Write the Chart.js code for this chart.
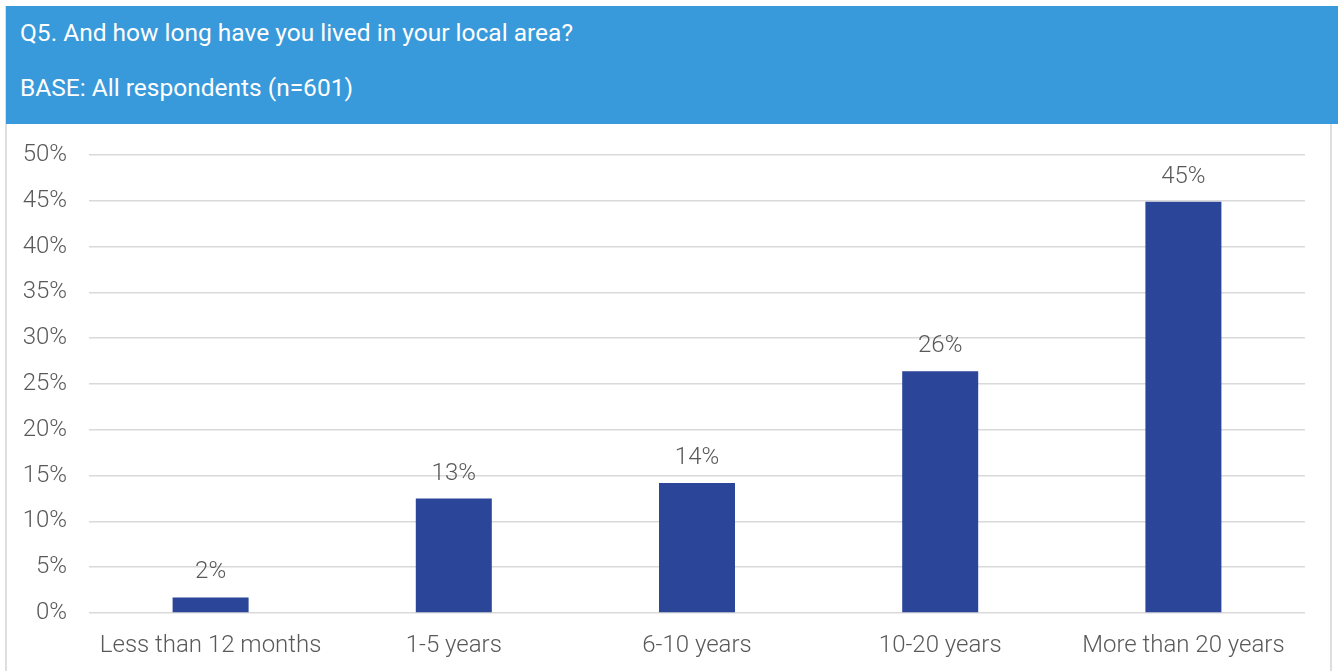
<!DOCTYPE html>
<html>
<head>
<meta charset="utf-8">
<script src="https://cdn.jsdelivr.net/npm/chart.js@4.4.0/dist/chart.umd.min.js"></script>
<style>
  html, body { margin: 0; padding: 0; background: #fff; width: 1338px; height: 671px; overflow: hidden; }
  .panel { position: absolute; left: 5px; top: 6px; width: 1327px; height: 680px; border: 2px solid #dedede; border-top: none; box-sizing: border-box; }
  .header { position: absolute; left: 6px; top: 6px; width: 1332px; height: 118px; background: #3899db; color: #fff; font-family: Roboto, sans-serif; font-size: 24.5px; }
  .header div { position: absolute; left: 14px; white-space: nowrap; }
  .wrap { position: absolute; left: 8px; top: 126px; width: 1324px; height: 545px; }
</style>
</head>
<body>
<div class="panel"></div>
<div class="header">
  <div style="top: 12px;">Q5. And how long have you lived in your local area?</div>
  <div style="top: 67px;">BASE: All respondents (n=601)</div>
</div>
<div class="wrap"><canvas id="chart"></canvas></div>
<script>
// Chart data
const categories = ['Less than 12 months', '1-5 years', '6-10 years', '10-20 years', 'More than 20 years'];
const values = [1.7, 12.5, 14.2, 26.4, 44.9];
const valueLabels = ['2%', '13%', '14%', '26%', '45%'];
const yTicks = [0, 5, 10, 15, 20, 25, 30, 35, 40, 45, 50];

const textColor = '#595959';
const gridColor = '#d9d9d9';
const barColor = '#2b4599';

// draw value labels above the bars
const valueLabelPlugin = {
  id: 'valueLabels',
  afterDatasetsDraw(chart) {
    const ctx = chart.ctx;
    const meta = chart.getDatasetMeta(0);
    ctx.save();
    ctx.font = '300 24px Roboto';
    ctx.fillStyle = textColor;
    ctx.textAlign = 'center';
    ctx.textBaseline = 'middle';
    meta.data.forEach((bar, i) => {
      ctx.fillText(valueLabels[i], bar.x, bar.y - 25);
    });
    ctx.restore();
  }
};

new Chart(document.getElementById('chart'), {
  type: 'bar',
  data: {
    labels: categories,
    datasets: [{
      data: values,
      backgroundColor: barColor,
      categoryPercentage: 1,
      barPercentage: 0.3125
    }]
  },
  options: {
    responsive: true,
    maintainAspectRatio: false,
    animation: false,
    layout: { padding: { top: 29, right: 27, left: 0, bottom: 0 } },
    plugins: {
      legend: { display: false },
      tooltip: { enabled: false }
    },
    scales: {
      y: {
        min: 0,
        max: 50,
        afterBuildTicks: (scale) => { scale.ticks = yTicks.map(v => ({ value: v })); },
        afterFit: (scale) => {
          scale.width = 81;
          scale.paddingTop = 0;
          scale.paddingBottom = 0;
        },
        border: { display: false },
        grid: { color: gridColor, lineWidth: 1.5, drawTicks: false },
        ticks: {
          padding: 22,
          color: textColor,
          font: { family: 'Roboto', size: 24, weight: 300 },
          callback: (v) => v + '%'
        }
      },
      x: {
        afterFit: (scale) => {
          scale.height = 58;
          scale.paddingLeft = 0;
          scale.paddingRight = 0;
        },
        border: { display: false },
        grid: { display: false, drawTicks: false },
        ticks: {
          padding: 19,
          color: textColor,
          maxRotation: 0,
          font: { family: 'Roboto', size: 24, weight: 300 }
        }
      }
    }
  },
  plugins: [valueLabelPlugin]
});
</script>
</body>
</html>
